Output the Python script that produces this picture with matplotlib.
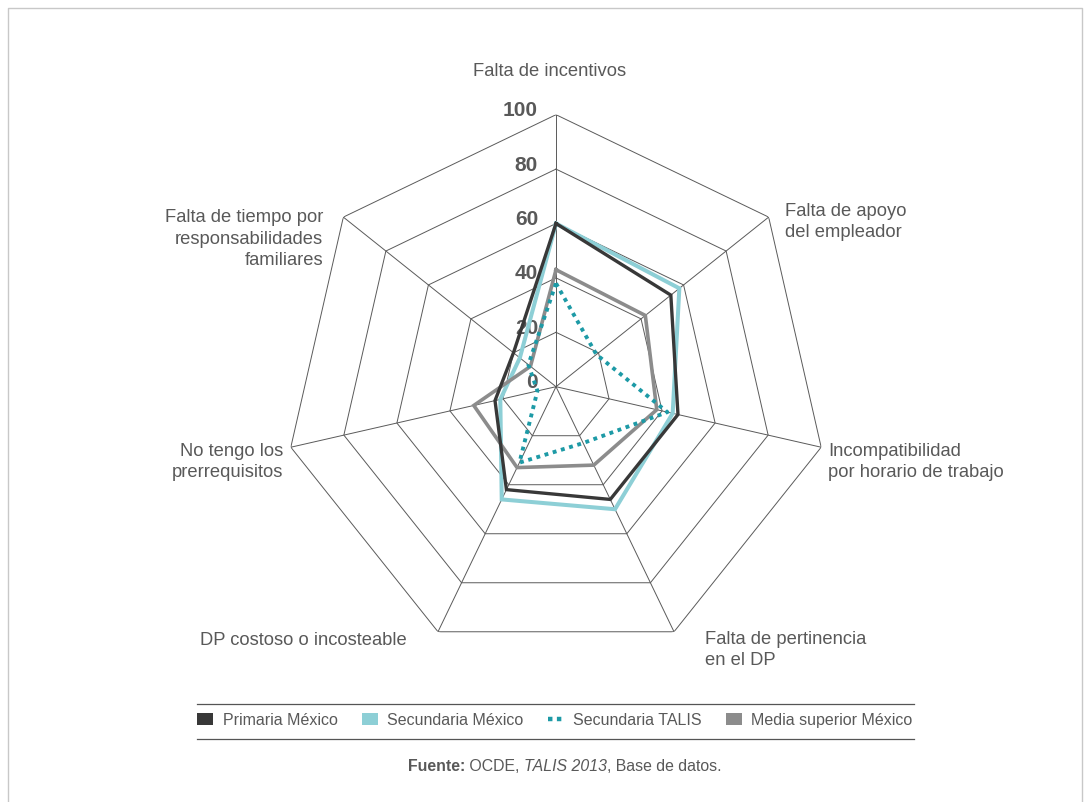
import numpy as np
import matplotlib
matplotlib.use("Agg")
import matplotlib.pyplot as plt
from matplotlib.lines import Line2D
from matplotlib.patches import Patch

# ---- data -------------------------------------------------------------
categories = [
    "Falta de incentivos",
    "Falta de apoyo\ndel empleador",
    "Incompatibilidad\npor horario de trabajo",
    "Falta de pertinencia\nen el DP",
    "DP costoso o incosteable",
    "No tengo los\nprerrequisitos",
    "Falta de tiempo por\nresponsabilidades\nfamiliares",
]
primaria_mexico = [60, 54, 46, 46, 42, 23, 20]
secundaria_mexico = [60, 58, 44, 50, 46, 21, 17]
secundaria_talis = [38, 19, 42, 23, 31, 7, 13]
media_superior_mexico = [43, 42, 38, 32, 33, 31, 12]
series_names = ["Primaria México", "Secundaria México",
                "Secundaria TALIS", "Media superior México"]
ring_ticks = [0, 20, 40, 60, 80, 100]

# ---- styling ----------------------------------------------------------
plt.rcParams["font.family"] = ["Liberation Sans", "DejaVu Sans"]
TXT = "#595959"
GRID = "#5a5a5a"
C_PRIM = "#383838"
C_SEC = "#8dcfd6"
C_TALIS = "#1d9aa6"
C_MEDIA = "#8c8c8c"

W, H = 1090, 803
fig = plt.figure(figsize=(W / 100, H / 100), dpi=100)
fig.patch.set_facecolor("white")


def fx(x):
    return x / W


def fy(y):
    return 1 - y / H


# polar axes: centre and radius in pixels
cx, cy, rad = 556, 387.7, 272
ax = fig.add_axes([fx(cx - rad), fy(cy + rad), 2 * rad / W, 2 * rad / H],
                  projection="polar")
ax.set_theta_offset(np.pi / 2)
ax.set_theta_direction(-1)
ax.set_ylim(0, 100)
ax.set_xticks([])
ax.set_yticks([])
ax.grid(False)
ax.spines["polar"].set_visible(False)
ax.patch.set_alpha(0)

n = len(categories)
theta = np.arange(n) * 2 * np.pi / n
theta_closed = np.append(theta, theta[0])

# heptagonal rings and spokes
for r in ring_ticks[1:]:
    ax.plot(theta_closed, [r] * (n + 1), color=GRID, lw=0.7, zorder=1)
for t in theta:
    ax.plot([t, t], [0, 100], color=GRID, lw=0.7, zorder=1)

# ring labels along the top spoke
for r in ring_ticks:
    ax.annotate(str(r), xy=(0, r), xytext=(-18, 5), textcoords="offset pixels",
                ha="right", va="center", fontsize=15, fontweight="bold",
                color=TXT, zorder=2)


def close(v):
    return np.append(v, v[0])


ax.plot(theta_closed, close(secundaria_mexico), color=C_SEC, lw=2.9,
        zorder=3, solid_joinstyle="miter")
ax.plot(theta_closed, close(media_superior_mexico), color=C_MEDIA, lw=2.6,
        zorder=4, solid_joinstyle="miter")
ax.plot(theta_closed, close(primaria_mexico), color=C_PRIM, lw=2.4,
        zorder=5, solid_joinstyle="miter")
ax.plot(theta_closed, close(secundaria_talis), color=C_TALIS, lw=2.8,
        zorder=6, linestyle=(0, (1, 1.2)), dash_capstyle="butt")

# category labels
label_pos = [
    (550, 72, "center"),
    (785, 222, "left"),
    (828, 462, "left"),
    (705, 650, "left"),
    (407, 641, "right"),
    (283, 462, "right"),
    (323, 239, "right"),
]
for text, (x, y, ha) in zip(categories, label_pos):
    fig.text(fx(x), fy(y), text, ha=ha, va="center", multialignment=ha,
             fontsize=13.2, color=TXT, linespacing=1.32)

# legend between two rules
handles = [
    Patch(facecolor=C_PRIM, edgecolor="none"),
    Patch(facecolor=C_SEC, edgecolor="none"),
    Line2D([], [], color=C_TALIS, lw=3.2, linestyle=(0, (1, 1)),
           dash_capstyle="butt"),
    Patch(facecolor=C_MEDIA, edgecolor="none"),
]
fig.legend(handles, series_names, loc="center", ncol=4,
           bbox_to_anchor=(fx(555), fy(721)), frameon=False,
           fontsize=11.5, labelcolor=TXT, handlelength=1.0, handleheight=0.8,
           handletextpad=0.6, columnspacing=1.5)
for y in (705, 740):
    fig.add_artist(Line2D([fx(197), fx(914)], [fy(y), fy(y)],
                          transform=fig.transFigure, color="#555555", lw=0.9))

# source note
src_y = fy(767)
t1 = fig.text(fx(408), src_y, "Fuente:", fontsize=11.4, fontweight="bold",
              color=TXT, ha="left", va="center")
fig.canvas.draw()
renderer = fig.canvas.get_renderer()


def after(txt_artist, s, **kw):
    bb = txt_artist.get_window_extent(renderer)
    return fig.text(bb.x1 / W, src_y, s, fontsize=11.4, color=TXT,
                    ha="left", va="center", **kw)


t2 = after(t1, " OCDE, ")
t3 = after(t2, "TALIS 2013", style="italic")
t4 = after(t3, ", Base de datos.")

# outer frame (left, top, right)
fig.add_artist(Line2D([fx(8), fx(8), fx(1082), fx(1082)],
                      [0, fy(9), fy(9), 0], transform=fig.transFigure,
                      color="#c8c8c8", lw=1.0))

fig.savefig("out.png", dpi=100, facecolor="white")
